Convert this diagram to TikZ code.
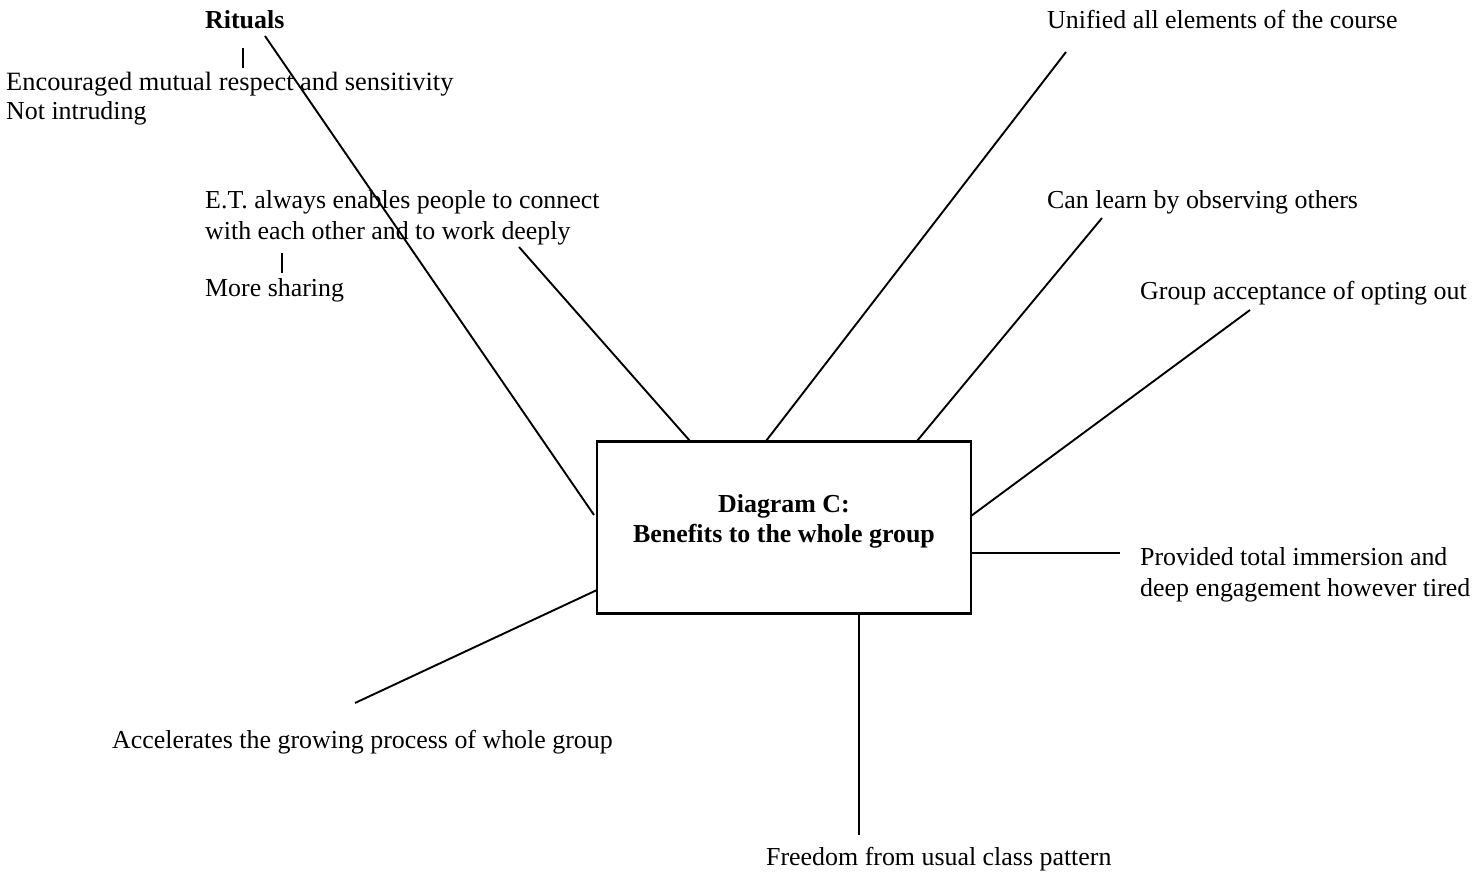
\documentclass[tikz,border=0pt]{standalone}
\usepackage{fontspec}
\setmainfont{Liberation Serif}
\begin{document}
\begin{tikzpicture}[x=1pt,y=-1pt,
  lbl/.style={anchor=base west, inner sep=0pt, font=\fontsize{25.9}{30.5}\selectfont},
  ttl/.style={anchor=base, inner sep=0pt, font=\fontsize{25.9}{30.5}\selectfont\bfseries},
  conn/.style={line width=1.9pt, black},
  boxst/.style={draw, line width=2.1pt, minimum width=374pt, minimum height=172pt, inner sep=0pt}]
\useasboundingbox (0,0) rectangle (1475,875);
% central box
\node[boxst] (box) at (784,527.5) {};
\node[ttl] (t1) at (784,512) {Diagram C:};
\node[ttl] (t2) at (784,542) {Benefits to the whole group};
% labels
\node[lbl, font=\fontsize{25.9}{30.5}\selectfont\bfseries] (rit) at (205,29) {Rituals};
\node[lbl, font=\fontsize{26.4}{30.5}\selectfont] (enc) at (6,90) {Encouraged mutual respect and sensitivity};
\node[lbl] (noti) at (6,119) {Not intruding};
\node[lbl] (et1) at (205,208) {E.T. always enables people to connect};
\node[lbl] (et2) at (205,239) {with each other and to work deeply};
\node[lbl] (more) at (205,296) {More sharing};
\node[lbl] (uni) at (1047,29) {Unified all elements of the course};
\node[lbl] (can) at (1047,208) {Can learn by observing others};
\node[lbl] (grp) at (1140,299) {Group acceptance of opting out};
\node[lbl] (pro1) at (1140,565) {Provided total immersion and};
\node[lbl] (pro2) at (1140,596) {deep engagement however tired};
\node[lbl] (acc) at (112,748) {Accelerates the growing process of whole group};
\node[lbl] (fre) at (766,865) {Freedom from usual class pattern};
% connector end points
\coordinate (cR1) at (265,36);   \coordinate (cR2) at (594,515);
\coordinate (cE1) at (519,247);  \coordinate (cE2) at (690,441);
\coordinate (cU1) at (1066,52);  \coordinate (cU2) at (766,441);
\coordinate (cC1) at (1102,218); \coordinate (cC2) at (917,441);
\coordinate (cG1) at (1250,310); \coordinate (cG2) at (971,516);
\coordinate (cP1) at (971,553);  \coordinate (cP2) at (1120,553);
\coordinate (cF1) at (859,613);  \coordinate (cF2) at (859,835);
\coordinate (cA1) at (597,590);  \coordinate (cA2) at (355,703);
\coordinate (tk1) at (243,48);   \coordinate (tk2) at (243,68);
\coordinate (tm1) at (282,253);  \coordinate (tm2) at (282,273);
% connectors
\draw[conn] (cR1) -- (cR2);
\draw[conn] (cE1) -- (cE2);
\draw[conn] (cU1) -- (cU2);
\draw[conn] (cC1) -- (cC2);
\draw[conn] (cG1) -- (cG2);
\draw[conn] (cP1) -- (cP2);
\draw[conn] (cF1) -- (cF2);
\draw[conn] (cA1) -- (cA2);
\draw[conn] (tk1) -- (tk2);
\draw[conn] (tm1) -- (tm2);
\end{tikzpicture}
\end{document}
